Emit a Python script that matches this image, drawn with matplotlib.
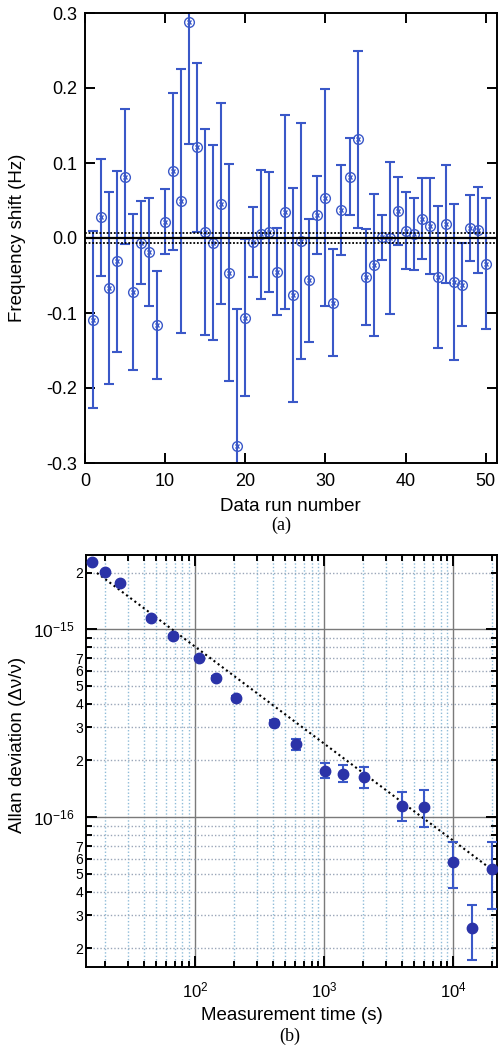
import matplotlib.pyplot as plt
import numpy as np
from matplotlib.ticker import FixedLocator, FuncFormatter, NullFormatter, MultipleLocator

plt.rcParams['font.family'] = ['Liberation Sans', 'DejaVu Sans']
plt.rcParams['mathtext.fontset'] = 'custom'
plt.rcParams['mathtext.rm'] = 'Liberation Sans'
plt.rcParams['mathtext.it'] = 'Liberation Sans:italic'

# (a) frequency shift per data run
run = np.arange(1, 51)
shift = [-0.109, 0.028, -0.067, -0.031, 0.082, -0.072, -0.006, -0.018, -0.116, 0.022,
         0.089, 0.050, 0.288, 0.121, 0.008, -0.006, 0.046, -0.046, -0.277, -0.106,
         -0.005, 0.005, 0.008, -0.045, 0.035, -0.076, -0.004, -0.056, 0.031, 0.054,
         -0.086, 0.037, 0.082, 0.132, -0.052, -0.036, 0.001, 0.000, 0.036, 0.010,
         0.006, 0.026, 0.016, -0.052, 0.019, -0.058, -0.062, 0.013, 0.011, -0.034]
shift_err = [0.118, 0.078, 0.128, 0.121, 0.090, 0.104, 0.055, 0.072, 0.072, 0.043,
             0.105, 0.176, 0.163, 0.113, 0.137, 0.130, 0.134, 0.145, 0.182, 0.105,
             0.047, 0.086, 0.080, 0.058, 0.129, 0.143, 0.157, 0.082, 0.052, 0.145,
             0.071, 0.060, 0.051, 0.118, 0.064, 0.095, 0.030, 0.101, 0.045, 0.051,
             0.048, 0.054, 0.064, 0.095, 0.079, 0.104, 0.055, 0.044, 0.057, 0.087]
mean_shift = 0.0005
mean_err = 0.0065

# (b) Allan deviation
tau = [16, 20, 26, 46, 67, 107, 146, 207, 407, 607,
       1010, 1410, 2030, 4050, 5950, 9950, 14100, 20000]
adev = [2.27e-15, 2.02e-15, 1.76e-15, 1.14e-15, 9.18e-16, 6.98e-16, 5.51e-16, 4.31e-16, 3.18e-16, 2.44e-16,
        1.76e-16, 1.69e-16, 1.63e-16, 1.15e-16, 1.13e-16, 5.78e-17, 2.58e-17, 5.28e-17]
adev_hi = [2.30e-15, 2.05e-15, 1.79e-15, 1.16e-15, 9.35e-16, 7.12e-16, 5.64e-16, 4.43e-16, 3.30e-16, 2.60e-16,
           1.93e-16, 1.88e-16, 1.84e-16, 1.36e-16, 1.39e-16, 7.39e-17, 3.40e-17, 7.33e-17]
adev_lo = [2.24e-15, 1.99e-15, 1.73e-15, 1.12e-15, 9.01e-16, 6.84e-16, 5.38e-16, 4.19e-16, 3.07e-16, 2.27e-16,
           1.62e-16, 1.54e-16, 1.43e-16, 9.55e-17, 8.87e-17, 4.21e-17, 1.73e-17, 3.24e-17]
# dotted fit line end points
fit_tau = [17.4, 21900]
fit_adev = [1.99e-15, 5.00e-17]

# tick values of panel (b)
x_major = [1e2, 1e3, 1e4]
x_minor = [20, 30, 40, 50, 60, 70, 80, 90, 200, 300, 400, 500, 600, 700, 800, 900,
           2000, 3000, 4000, 5000, 6000, 7000, 8000, 9000, 20000]
y_major = [1e-16, 1e-15]
y_minor = [2e-17, 3e-17, 4e-17, 5e-17, 6e-17, 7e-17, 8e-17, 9e-17,
           2e-16, 3e-16, 4e-16, 5e-16, 6e-16, 7e-16, 8e-16, 9e-16, 2e-15]
y_minor_labels = ['2', '3', '4', '5', '6', '7', '', '',
                  '2', '3', '4', '5', '6', '7', '', '', '2']

W, H = 498, 1049
fig = plt.figure(figsize=(W / 100, H / 100), dpi=100)


def px_axes(left, top, right, bottom):
    return fig.add_axes([left / W, 1 - bottom / H, (right - left) / W, (bottom - top) / H])


blue = '#3a58c8'

# ---- panel (a)
ax1 = px_axes(85, 13, 497, 463)
ax1.errorbar(run, shift, yerr=shift_err, fmt='none', ecolor=blue, elinewidth=1.5,
             capsize=3.6, capthick=1.5, zorder=2)
ax1.plot(run, shift, 'o', ms=7, mfc='none', mec=blue, mew=1.0, zorder=3)
ax1.plot(run, shift, 'x', ms=3.5, mec=blue, mew=1.0, zorder=3)
ax1.axhline(mean_shift, color='black', lw=1.6, zorder=4)
ax1.axhline(mean_shift + mean_err, color='black', lw=1.3, ls=(0, (1, 1)), zorder=4)
ax1.axhline(mean_shift - mean_err, color='black', lw=1.3, ls=(0, (1, 1)), zorder=4)
ax1.set_xlim(0, 51.4)
ax1.set_ylim(-0.3, 0.3)
ax1.xaxis.set_major_locator(MultipleLocator(10))
ax1.yaxis.set_major_locator(MultipleLocator(0.1))
ax1.yaxis.set_major_formatter(FuncFormatter(lambda v, p: f'{v:.1f}'))
ax1.tick_params(direction='in', top=True, right=True, length=7, width=1.4, labelsize=13)
ax1.tick_params(axis='x', pad=7)
ax1.tick_params(axis='y', pad=5.5)
for s in ax1.spines.values():
    s.set_linewidth(1.4)

# ---- panel (b)
ax2 = px_axes(86, 555, 497, 967)
ax2.set_xscale('log')
ax2.set_yscale('log')
ax2.set_xlim(14.3, 21900)
ax2.set_ylim(1.59e-17, 2.48e-15)
ax2.set_axisbelow(True)

ax2.xaxis.set_major_locator(FixedLocator(x_major))
ax2.xaxis.set_minor_locator(FixedLocator(x_minor))
ax2.yaxis.set_major_locator(FixedLocator(y_major))
ax2.yaxis.set_minor_locator(FixedLocator(y_minor))
ax2.xaxis.set_major_formatter(FuncFormatter(lambda v, p: r'$10^{%d}$' % round(np.log10(v))))
ax2.yaxis.set_major_formatter(FuncFormatter(lambda v, p: r'$10^{%d}$' % round(np.log10(v))))
ax2.xaxis.set_minor_formatter(NullFormatter())
ax2.yaxis.set_minor_formatter(FuncFormatter(lambda v, p: y_minor_labels[p] if p is not None and p < len(y_minor_labels) else ''))

ax2.grid(which='major', color='#7a7a7a', lw=1.0, ls='-')
ax2.grid(which='minor', axis='x', color='#8fbcd8', lw=1.0, ls=(0, (1, 1.5)))
ax2.grid(which='minor', axis='y', color='#9aa6b8', lw=1.0, ls=(0, (1, 1.5)))

ax2.plot(fit_tau, fit_adev, color='black', lw=1.5, ls=(0, (1, 1.5)), zorder=3)

a = np.array(adev)
yerr = [a - np.array(adev_lo), np.array(adev_hi) - a]
ax2.errorbar(tau, adev, yerr=yerr, fmt='o', ms=7.5, mfc='#2b33a8', mec='#2b33a8',
             ecolor=blue, elinewidth=1.5, capsize=3.6, capthick=1.5, zorder=4)

ax2.tick_params(which='both', direction='in', top=True, right=True, width=1.4)
ax2.tick_params(which='major', length=8)
ax2.tick_params(which='minor', length=4.5)
ax2.tick_params(axis='x', which='major', labelsize=12, pad=10)
ax2.tick_params(axis='y', which='major', labelsize=12.5, pad=8)
ax2.tick_params(axis='y', which='minor', labelsize=10, pad=2)
for s in ax2.spines.values():
    s.set_linewidth(1.4)

# ---- labels
fig.text(18 / W, 1 - 238 / H, 'Frequency shift (Hz)', rotation=90, ha='center', va='center', fontsize=13.5)
fig.text(290 / W, 1 - 507 / H, 'Data run number', ha='center', va='center', fontsize=13.5)
fig.text(281 / W, 1 - 525 / H, '(a)', ha='center', va='center', fontsize=13,
         family=['Liberation Serif', 'DejaVu Serif'])
fig.text(18 / W, 1 - 745 / H, 'Allan deviation (Δν/ν)', rotation=90, ha='center', va='center', fontsize=13.5)
fig.text(292 / W, 1 - 1015 / H, 'Measurement time (s)', ha='center', va='center', fontsize=13.5)
fig.text(290 / W, 1 - 1036 / H, '(b)', ha='center', va='center', fontsize=13,
         family=['Liberation Serif', 'DejaVu Serif'])

fig.savefig('out.png', dpi=100)
